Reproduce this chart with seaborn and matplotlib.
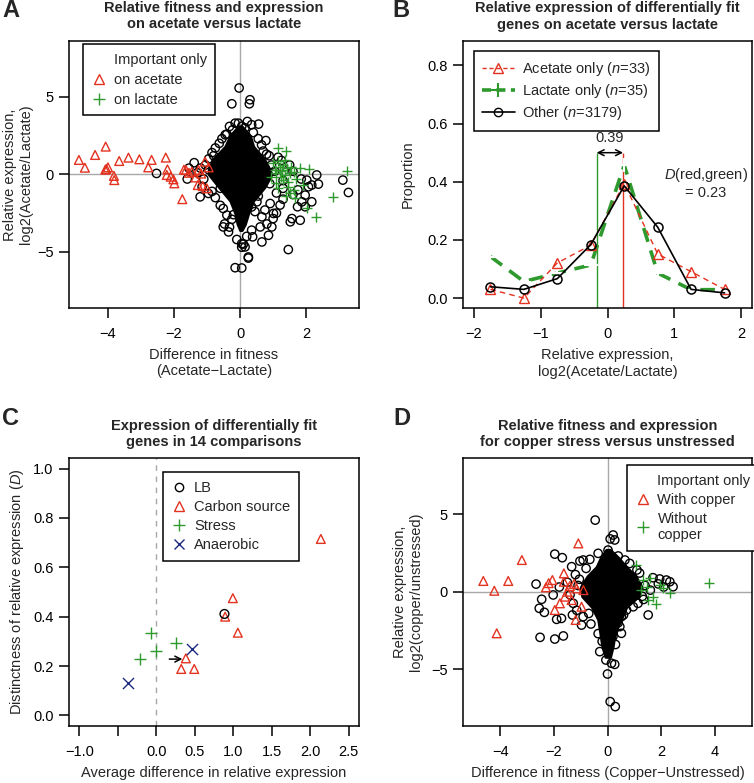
import numpy as np
import pandas as pd
import matplotlib.pyplot as plt
from matplotlib.lines import Line2D
import seaborn as sns

# ---- panel A: acetate vs lactate ----
acet_x = [-4.88, -4.70, -4.39, -4.07, -4.05, -4.00, -4.08, -3.82, -3.81, -3.66, -3.38, -3.05, -2.68,
          -2.78, -2.25, -2.20, -2.22, -2.02, -1.99, -1.75, -1.64, -1.46, -1.26, -1.28, -1.13, -1.06,
          -1.01, -1.55, -1.35, -1.18, -0.95, -2.10, -1.70]
acet_y = [0.93, 0.43, 1.25, 1.79, 0.35, 0.45, 0.30, -0.10, -0.37, 0.86, 1.08, 0.97, 0.93,
          0.45, 1.08, 0.32, -0.04, -0.32, -0.58, -1.60, 0.28, 0.17, 0.28, -0.69, -0.76, 0.82,
          -0.90, 0.10, -0.20, 0.05, 0.45, -0.15, 0.30]
lact_x = [1.16, 1.38, 1.82, 2.10, 3.23, 2.81, 2.30, 2.02, 1.67, 1.52, 1.21, 1.26, 1.41, 1.09, 1.31,
          1.46, 1.62, 1.16, 1.01, 1.62, 1.36, 1.05, 1.15, 1.30, 1.50, 1.25, 1.10, 1.45, 1.55, 1.20,
          1.35, 0.95, 1.70, 1.40, 1.90]
lact_y = [1.68, 1.51, 0.39, 0.32, 0.24, -1.49, -2.74, -2.16, -1.55, -1.23, 0.50, 0.28, 0.39, 0.06, -0.37,
          -0.80, -1.00, -0.90, 0.71, 0.17, -0.04, 0.30, 0.85, 0.60, 0.10, -0.15, -0.55, -0.50, 0.45, 0.20,
          0.95, -0.20, -0.30, -1.40, -0.70]
other_a_x = [-0.03, -0.25, 0.30, 0.28, 0.22, 0.56, 0.78, -0.05, -0.23, -0.45, -0.63, 0.05, 0.15, -0.32,
             0.40, 0.55, -0.15, 0.35, -0.55, -0.75, -0.85, 0.65, 0.70, 0.88,
             -1.39, -2.53, -1.21, -0.96, -1.20, -1.30, -1.10, -1.05, -0.95, -1.15, -0.85, -0.75, -1.55, -1.60,
             -0.51, -0.40, -0.51, -0.35, 0.05, 0.15, 0.25, 0.38, 0.66, 0.86, 0.61, 0.96, 0.66, 1.01, 1.46,
             1.52, 1.82, 1.97, 1.74, 1.97, 2.07, 2.32, 2.02, 2.17, 3.11, 3.28, 1.21, 0.91, 0.51, -0.15, 0.05,
             0.25, 0.05, 0.10, -0.47, -0.32, 0.81, 1.00, 1.10, 1.57, 1.87, 2.17, 2.37, -0.25, 0.35, 0.45,
             0.75, 1.30, 1.60, 0.20, -0.10, 1.10, 1.30, 1.75, 1.85, 1.60, 1.50, 1.25, 1.15, 1.05, 1.30, -0.60,
             -0.95, -0.80, -0.60, 0.90, 0.95, 0.80, 0.55, -0.40, 0.35, -0.20]
other_a_y = [5.57, 4.55, 4.81, 4.55, 3.41, 3.24, 2.18, 3.30, 2.87, 2.55, 2.00, 3.10, 3.00, 3.09,
             2.70, 2.30, 3.30, 3.20, 2.30, 1.70, 1.40, 1.90, 1.50, 1.20,
             0.75, 0.06, -1.45, -1.23, 0.40, 0.10, -0.30, 0.60, 1.00, -0.80, -1.10, -1.50, 0.40, -0.30,
             -2.20, -2.63, -3.39, -3.71, -4.47, -4.68, -5.33, -4.03, -4.36, -3.93, -3.39, -3.39, -2.74, -2.52, -4.85,
             -3.06, -2.96, -2.09, -2.09, -1.34, -0.80, -0.04, -0.37, -0.69, -0.37, -1.17, -1.98, -1.88, -1.77, -6.02, -6.04,
             -5.40, -4.70, -4.50, -3.20, -3.40, -3.20, -2.85, -2.50, -2.85, -1.77, -1.77, -0.63, -2.90, -3.60, -2.40,
             -2.30, -1.60, -1.30, -4.00, -4.20, -1.20, -0.90, -1.00, -0.30, 0.20, 0.60, 0.90, 1.10, 0.20, -0.40, -2.00,
             0.30, 1.20, -0.90, -0.60, 0.60, 1.30, -1.40, 2.60, -2.10, -2.60]
# outline of the dense cloud of "other" genes
core_a_y = [3.1, 2.5, 1.8, 0.9, 0.3, 0.0, -0.8, -1.7, -2.5, -3.2, -3.6]
core_a_lo = [-0.05, -0.30, -0.45, -0.85, -0.95, -0.95, -0.65, -0.30, -0.15, -0.08, 0.0]
core_a_hi = [0.05, 0.30, 0.40, 0.75, 0.90, 0.95, 0.75, 0.40, 0.25, 0.15, 0.05]

# ---- panel B: distributions ----
bins = [-1.75, -1.25, -0.75, -0.25, 0.25, 0.75, 1.25, 1.75]
prop_acetate = [0.030, 0.0, 0.121, 0.182, 0.394, 0.152, 0.091, 0.030]
prop_lactate = [0.143, 0.057, 0.086, 0.114, 0.457, 0.086, 0.029, 0.029]
prop_other = [0.039, 0.030, 0.067, 0.184, 0.386, 0.244, 0.030, 0.018]
lact_mid = -0.163
acet_mid = 0.233

# ---- panel C: 14 comparisons ----
cmp_group = ['LB', 'Carbon source', 'Carbon source', 'Carbon source', 'Carbon source', 'Carbon source',
             'Carbon source', 'Carbon source', 'Stress', 'Stress', 'Stress', 'Stress', 'Anaerobic', 'Anaerobic']
cmp_x = [0.887, 0.996, 0.896, 1.061, 0.385, 0.325, 0.494, 2.14, -0.069, -0.009, -0.208, 0.26, -0.372, 0.459]
cmp_d = [0.411, 0.475, 0.400, 0.335, 0.231, 0.188, 0.188, 0.715, 0.335, 0.262, 0.228, 0.292, 0.132, 0.268]

# ---- panel D: copper vs unstressed ----
cu_x = [-4.64, -4.23, -3.71, -4.14, -3.20, -1.09, -2.30, -2.06, -1.63, -1.63, -1.41, -1.97, -1.59, -1.34,
        -1.19, -0.97, -1.16, -1.78, -1.50, -1.25, -2.20, -0.90]
cu_y = [0.69, 0.06, 0.69, -2.68, 2.04, 3.11, 0.28, 0.75, 1.18, 0.64, 0.36, -1.18, -0.32, -0.54,
        -1.82, -0.97, 0.21, -0.75, 0.0, 0.5, 0.55, 0.10]
nocu_x = [3.79, 1.08, 1.33, 1.46, 1.70, 1.80, 2.33, 2.08, 1.52, 1.27, 1.95, 1.60]
nocu_y = [0.54, 1.72, 0.75, 0.28, -0.32, -0.79, -0.06, 0.21, -0.54, 0.11, 0.45, 0.90]
other_d_x = [-0.46, 0.21, 0.27, 0.10, 0.02, -0.35, -1.97, -1.69, -1.34, -1.03, -0.91, -0.66, -2.67, -2.46,
             -2.55, -2.36, -2.52, -1.97, -1.65, -1.90, -1.72, -1.31, -0.91, -0.97, -0.62, -1.28, -2.03, 1.52,
             2.45, 2.33, 2.20, 1.95, 1.70, 0.83, 0.65, -0.06, 0.15, 0.27, -0.29, 0.0, 0.10, 0.29, 0.46, 0.52,
             0.71, 0.96, 1.14, 0.52, -1.50, -1.80, -1.20, -1.10, -1.40, -1.15, 1.20, 1.40, 1.60, 1.90, 2.10,
             1.30, -0.80, 0.40, -0.20, 0.30, 0.20, -0.35, 0.40, -1.05, 1.35, 1.10, -0.70, 0.60]
other_d_y = [4.61, 3.65, 3.33, 3.40, 2.68, 2.47, 2.42, 2.19, 1.61, 1.97, 2.04, 2.08, 0.49, -0.49,
             -1.07, -1.33, -2.94, -3.05, -2.85, -1.78, -1.72, -1.50, -1.61, -2.15, -2.08, -0.75, -0.21, -1.50,
             0.32, 0.64, 0.75, 0.82, 0.90, 1.82, 2.04, -4.40, -4.61, -4.68, -3.86, -5.30, -7.08, -7.40, -2.25, -1.61,
             -1.18, -0.97, -0.75, -2.68, 0.60, 0.30, 1.10, 0.40, -0.20, -1.20, 1.20, 0.40, 0.10, 0.50, 0.30,
             -0.30, 1.50, 2.30, -3.20, -3.40, -2.90, -2.70, -2.00, 0.80, -0.50, 1.40, -1.40, -1.50]
core_d_y = [2.7, 2.2, 1.6, 1.0, 0.3, -0.3, -1.0, -1.8, -2.7, -3.5, -4.2]
core_d_lo = [-0.05, -0.25, -0.41, -0.75, -1.00, -0.95, -0.58, -0.35, -0.27, -0.20, -0.08]
core_d_hi = [0.10, 0.40, 0.70, 1.05, 1.28, 1.15, 0.70, 0.50, 0.27, 0.20, 0.10]

RED = '#e3321f'
GREEN = '#2e9a2e'
NAVY = '#1c2a80'
GREY = '#a8a8a8'

sns.set_style('ticks')
plt.rcParams['font.family'] = ['Liberation Sans', 'DejaVu Sans']
plt.rcParams['mathtext.fontset'] = 'custom'
plt.rcParams['mathtext.rm'] = 'Liberation Sans'
plt.rcParams['mathtext.it'] = 'Liberation Sans:italic'
plt.rcParams['font.size'] = 10.5

W, H = 754, 783
fig = plt.figure(figsize=(W / 100, H / 100), dpi=100)


def box(l, t, r, b):
    ax = fig.add_axes([l / W, 1 - b / H, (r - l) / W, (b - t) / H])
    for s in ax.spines.values():
        s.set_linewidth(1.1)
        s.set_color('black')
    ax.tick_params(direction='out', length=7, width=1.1, labelsize=10.5,
                   top=False, right=False, colors='black')
    ax.tick_params(axis='x', pad=7)
    ax.tick_params(axis='y', pad=4)
    return ax


def open_pts(ax, x, y, marker, color, s=36, lw=1.0):
    if marker == '+' or marker == 'x':
        sns.scatterplot(x=x, y=y, ax=ax, marker=marker, color=color, s=s * 1.6, linewidth=lw, zorder=3)
    else:
        sns.scatterplot(x=x, y=y, ax=ax, marker=marker, color=color, facecolor='none',
                        edgecolor=color, s=s, linewidth=lw, zorder=3)


def legend(ax, handles, labels, anchor, spacing=0.3, **kw):
    lg = ax.legend(handles, labels, loc='upper left', bbox_to_anchor=anchor, borderaxespad=0,
                   fancybox=False, framealpha=1, edgecolor='black', fontsize=10.5,
                   handletextpad=0.5, labelspacing=spacing, borderpad=0.6, **kw)
    lg.get_frame().set_linewidth(1.1)
    lg.set_zorder(5)
    return lg


def blank():
    return Line2D([], [], linestyle='none')


def tri(c):
    return Line2D([], [], linestyle='none', marker='^', mfc='none', mec=c, ms=6.5, mew=1)


def plus(c):
    return Line2D([], [], linestyle='none', marker='+', color=c, ms=8, mew=1)


# ---------------- A ----------------
axA = box(69, 41, 359, 307.7)
axA.axhline(0, color=GREY, lw=1, zorder=1)
axA.axvline(0, color=GREY, lw=1, zorder=1)
axA.fill_betweenx(core_a_y, core_a_lo, core_a_hi, color='black', lw=2, zorder=2)
open_pts(axA, other_a_x, other_a_y, 'o', 'black')
open_pts(axA, acet_x, acet_y, '^', RED, s=40)
open_pts(axA, lact_x, lact_y, '+', GREEN)
axA.set_xlim(-5.18, 3.6)
axA.set_ylim(-8.6, 8.6)
axA.set_xticks([-4, -2, 0, 2])
axA.set_yticks([-5, 0, 5])
axA.set_xlabel('Difference in fitness\n(Acetate\u2212Lactate)', labelpad=5)
axA.set_ylabel('Relative expression,\nlog2(Acetate/Lactate)', labelpad=3)
axA.set_title('Relative fitness and expression\non acetate versus lactate',
              fontweight='bold', fontsize=10.5, pad=9)
legend(axA, [blank(), tri(RED), plus(GREEN)], ['Important only', 'on acetate', 'on lactate'],
       (0.048, 0.988), spacing=0.4, handlelength=1.0)

# ---------------- B ----------------
axB = box(463, 41, 752, 308)
axB.vlines([lact_mid], -0.04, 0.5, color=GREEN, lw=1, zorder=1)
axB.vlines([acet_mid], -0.04, 0.5, color=RED, lw=1, zorder=1)
sns.lineplot(x=bins, y=prop_lactate, ax=axB, color=GREEN, lw=2.6, linestyle=(0, (4, 2.5)),
             marker='+', ms=10, mew=1.5, zorder=3)
sns.lineplot(x=bins, y=prop_acetate, ax=axB, color=RED, lw=1, linestyle=(0, (4, 3)),
             marker='^', ms=7, mfc='none', mec=RED, mew=1, zorder=3)
sns.lineplot(x=bins, y=prop_other, ax=axB, color='black', lw=1.2,
             marker='o', ms=6.5, mfc='none', mec='black', mew=1.1, zorder=4)
axB.annotate('', xy=(acet_mid, 0.5), xytext=(lact_mid, 0.5),
             arrowprops=dict(arrowstyle='<->', color='black', lw=1.1, shrinkA=0, shrinkB=0))
axB.text((lact_mid + acet_mid) / 2, 0.525, '0.39', ha='center', va='bottom', fontsize=10.5)
axB.text(1.47, 0.395, '$D$(red,green)\n= 0.23', ha='center', va='center', fontsize=10.5,
         linespacing=1.15)
axB.set_xlim(-2.16, 2.16)
axB.set_ylim(-0.034, 0.884)
axB.set_xticks([-2, -1, 0, 1, 2])
axB.set_yticks([0, 0.2, 0.4, 0.6, 0.8])
axB.set_xlabel('Relative expression,\nlog2(Acetate/Lactate)', labelpad=5)
axB.set_ylabel('Proportion', labelpad=9)
axB.set_title('Relative expression of differentially fit\ngenes on acetate versus lactate',
              fontweight='bold', fontsize=10.5, pad=9)
hB = [Line2D([], [], color=RED, lw=1, ls=(0, (3, 2)), marker='^', mfc='none', mec=RED, ms=6.5),
      Line2D([], [], color=GREEN, lw=2.6, ls=(0, (2.5, 1.5)), marker='+', ms=10, mew=1.5),
      Line2D([], [], color='black', lw=1.2, marker='o', mfc='none', mec='black', ms=6)]
legend(axB, hB, ['Acetate only ($n$=33)', 'Lactate only ($n$=35)', 'Other ($n$=3179)'],
       (0.037, 0.963), handlelength=2.2)

# ---------------- C ----------------
axC = box(69, 458.3, 359, 725.7)
axC.axvline(0, color=GREY, lw=1, ls=(0, (4, 4)), zorder=1)
cdf = pd.DataFrame({'group': cmp_group, 'x': cmp_x, 'd': cmp_d})
styleC = {'LB': ('o', 'black'), 'Carbon source': ('^', RED), 'Stress': ('+', GREEN), 'Anaerobic': ('x', NAVY)}
for g in ['Carbon source', 'Stress', 'Anaerobic', 'LB']:
    sub = cdf[cdf['group'] == g]
    m, c = styleC[g]
    open_pts(axC, sub['x'], sub['d'], m, c, s=40)
axC.annotate('', xy=(0.34, 0.228), xytext=(0.17, 0.228),
             arrowprops=dict(arrowstyle='->', color='black', lw=1.1, shrinkA=0, shrinkB=0))
axC.set_xlim(-1.134, 2.636)
axC.set_ylim(-0.042, 1.042)
axC.set_xticks([-1.0, -0.5, 0.0, 0.5, 1.0, 1.5, 2.0, 2.5])
axC.set_xticklabels(['\u22121.0', '', '0.0', '0.5', '1.0', '1.5', '2.0', '2.5'])
axC.set_yticks([0, 0.2, 0.4, 0.6, 0.8, 1.0])
axC.set_xlabel('Average difference in relative expression', labelpad=5)
axC.set_ylabel('Distinctness of relative expression ($D$)', labelpad=5)
axC.set_title('Expression of differentially fit\ngenes in 14 comparisons',
              fontweight='bold', fontsize=10.5, pad=9)
hC = [Line2D([], [], ls='none', marker='o', mfc='none', mec='black', ms=6),
      tri(RED), plus(GREEN),
      Line2D([], [], ls='none', marker='x', color=NAVY, ms=6.5, mew=1)]
legend(axC, hC, ['LB', 'Carbon source', 'Stress', 'Anaerobic'], (0.325, 0.948),
       spacing=0.35, handlelength=1.0)

# ---------------- D ----------------
axD = box(463, 458.3, 752, 725.7)
axD.axhline(0, color=GREY, lw=1, zorder=1)
axD.axvline(0, color=GREY, lw=1, zorder=1)
axD.fill_betweenx(core_d_y, core_d_lo, core_d_hi, color='black', lw=2, zorder=2)
open_pts(axD, other_d_x, other_d_y, 'o', 'black')
open_pts(axD, cu_x, cu_y, '^', RED, s=40)
open_pts(axD, nocu_x, nocu_y, '+', GREEN)
axD.set_xlim(-5.4, 5.4)
axD.set_ylim(-8.63, 8.59)
axD.set_xticks([-4, -2, 0, 2, 4])
axD.set_yticks([-5, 0, 5])
axD.set_xlabel('Difference in fitness (Copper\u2212Unstressed)', labelpad=5)
axD.set_ylabel('Relative expression,\nlog2(copper/unstressed)', labelpad=6)
axD.set_title('Relative fitness and expression\nfor copper stress versus unstressed',
              fontweight='bold', fontsize=10.5, pad=9)
legend(axD, [blank(), tri(RED), plus(GREEN)], ['Important only', 'With copper', 'Without\ncopper'],
       (0.567, 0.975), spacing=0.35, handlelength=1.0)

for letter, px, py in [('A', 2, 17), ('B', 392, 17), ('C', 2, 425), ('D', 393, 425)]:
    fig.text(px / W, 1 - py / H, letter, fontsize=17, fontweight='bold', va='baseline', ha='left')

fig.savefig('out.png', dpi=100)
